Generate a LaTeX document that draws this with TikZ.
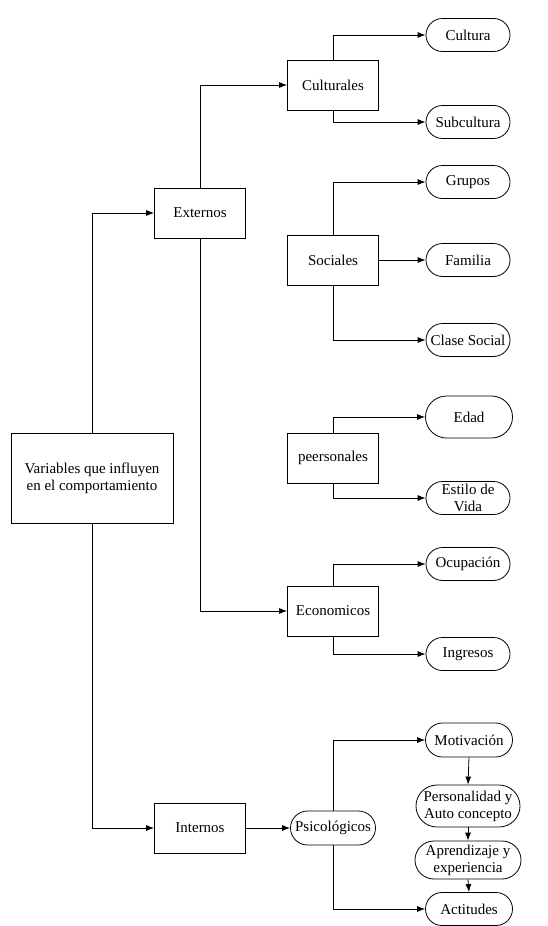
\documentclass[tikz,border=0pt]{standalone}
\usepackage{fontspec}
\setmainfont{Liberation Serif}
\usetikzlibrary{arrows.meta,shapes.misc}

\begin{document}
\begin{tikzpicture}[x=1pt, y=-1pt, line width=0.8pt,
    font=\fontsize{15}{17}\selectfont,
    caja/.style={draw, minimum width=91pt, minimum height=50pt, inner sep=2pt, align=center},
    ovalo/.style={draw, rounded rectangle, minimum width=90pt, minimum height=33pt,
                  inner xsep=3pt, inner ysep=1pt, align=center},
    flecha/.style={-{Latex[length=8pt,width=6pt]}}]

    \useasboundingbox (0,0) rectangle (548,926);

    % Main box and first level
    \node[caja, minimum width=162pt, minimum height=90pt] (variables) at (92,478)
        {Variables que influyen\\en el comportamiento};
    \node[caja] (externos) at (200,213) {Externos};
    \node[caja] (internos) at (200,828) {Internos};

    % Second level
    \node[caja] (culturales) at (333,85) {Culturales};
    \node[caja] (sociales) at (333,260) {Sociales};
    \node[caja] (personales) at (333,458) {peersonales};
    \node[caja] (economicos) at (333,611) {Economicos};
    \node[ovalo, minimum width=91pt, minimum height=34pt] (psico) at (333,828) {Psicológicos};

    % Third level (ovals on the right)
    \node[ovalo] (cultura) at (468,35) {Cultura};
    \node[ovalo] (subcultura) at (468,122) {Subcultura};
    \node[ovalo] (grupos) at (468,182) {Grupos};
    \node[ovalo] (familia) at (468,260) {Familia};
    \node[ovalo] (clase) at (468,340) {Clase Social};
    \node[ovalo, minimum width=93pt, minimum height=42pt] (edad) at (469,417) {Edad};
    \node[ovalo] (estilo) at (468,498) {Estilo de\\Vida};
    \node[ovalo] (ocupacion) at (468,564) {Ocupación};
    \node[ovalo] (ingresos) at (468,654) {Ingresos};
    \node[ovalo, minimum width=93pt, minimum height=34pt] (motivacion) at (469,740) {Motivación};
    \node[ovalo, minimum width=110pt, minimum height=42pt] (personalidad) at (468,806)
        {Personalidad y\\Auto concepto};
    \node[ovalo, minimum width=102pt, minimum height=38pt] (aprendizaje) at (468,860)
        {Aprendizaje y\\experiencia};
    \node[ovalo, minimum width=93pt, minimum height=33pt] (actitudes) at (469,909) {Actitudes};

    % Connectors from the main box
    \draw[flecha] (variables.north) |- (externos.west);
    \draw[flecha] (variables.south) |- (internos.west);

    % Externos branches
    \draw[flecha] (externos.north) |- (culturales.west);
    \draw[flecha] (externos.south) |- (economicos.west);

    % Culturales
    \draw[flecha] (culturales.north) |- (cultura.west);
    \draw[flecha] (culturales.south) |- (subcultura.west);

    % Sociales
    \draw[flecha] (sociales.north) |- (grupos.west);
    \draw[flecha] (sociales.east) -- (familia.west);
    \draw[flecha] (sociales.south) |- (clase.west);

    % Personales
    \draw[flecha] (personales.north) |- (edad.west);
    \draw[flecha] (personales.south) |- (estilo.west);

    % Economicos
    \draw[flecha] (economicos.north) |- (ocupacion.west);
    \draw[flecha] (economicos.south) |- (ingresos.west);

    % Internos and Psicologicos
    \draw[flecha] (internos.east) -- (psico.west);
    \draw[flecha] (psico.north) |- (motivacion.west);
    \draw[flecha] (psico.south) |- (actitudes.west);
    \draw[flecha] (motivacion.south) -- (personalidad.north);
    \draw[flecha] (personalidad.south) -- (aprendizaje.north);
    \draw[flecha] (aprendizaje.south) -- (actitudes.north);

\end{tikzpicture}
\end{document}
